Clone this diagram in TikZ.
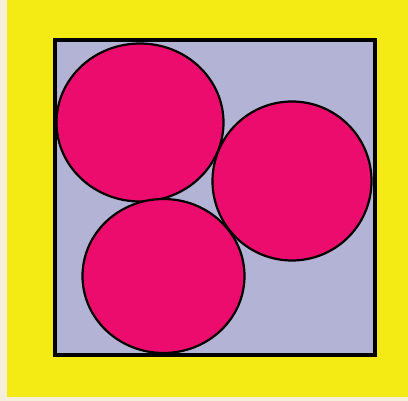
\documentclass[tikz,border=0pt]{standalone}
\definecolor{bgyellow}{HTML}{F5EB14}
\definecolor{cream}{HTML}{F5EED8}
\definecolor{lav}{HTML}{B3B3D6}
\definecolor{pinkc}{HTML}{EC0C6E}
\begin{document}
\begin{tikzpicture}[x=1pt,y=-1pt,
  ball/.style={fill=pinkc,draw=black,line width=2.2pt}]
\useasboundingbox (0,0) rectangle (408,401);
\fill[cream] (0,0) rectangle (408,401);
\fill[bgyellow] (7,0) rectangle (408,397);
\filldraw[fill=lav,draw=black,line width=4pt] (54.5,40) rectangle (375,355);
\draw[ball] (140,122.5) ellipse [x radius=83.5,y radius=79];
\draw[ball] (292,181) circle [radius=79.5];
\draw[ball] (163.5,276) ellipse [x radius=81,y radius=77];
\end{tikzpicture}
\end{document}
